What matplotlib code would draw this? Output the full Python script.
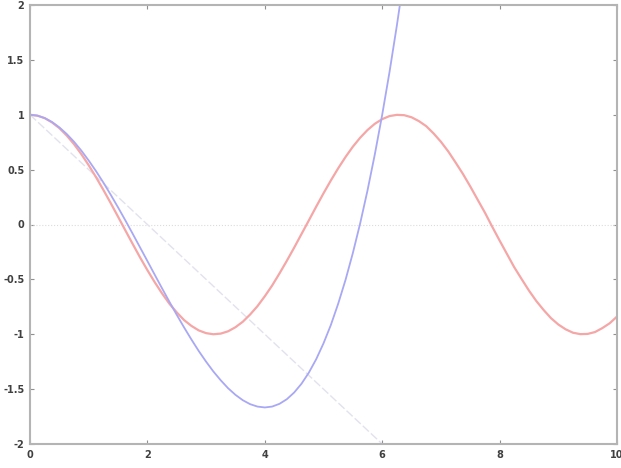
#!/usr/bin/env python3
import numpy as np
import matplotlib
matplotlib.use('Agg')
import matplotlib.pyplot as plt

x_red = [0.125 * i for i in range(81)]
y_red = [1.0, 0.992, 0.969, 0.930, 0.878, 0.811, 0.732, 0.641, 0.540, 0.431,
         0.315, 0.195, 0.071, -0.054, -0.178, -0.300, -0.416, -0.526, -0.628, -0.722,
         -0.801, -0.871, -0.924, -0.965, -0.990, -1.000, -0.994, -0.973, -0.936, -0.886,
         -0.820, -0.744, -0.654, -0.556, -0.446, -0.331, -0.211, -0.087, 0.037, 0.162,
         0.284, 0.401, 0.512, 0.615, 0.709, 0.791, 0.861, 0.918, 0.960, 0.988,
         0.999, 0.996, 0.977, 0.942, 0.896, 0.830, 0.754, 0.666, 0.565, 0.461,
         0.347, 0.227, 0.108, -0.021, -0.146, -0.268, -0.390, -0.497, -0.602, -0.697,
         -0.779, -0.853, -0.911, -0.955, -0.986, -0.999, -0.997, -0.980, -0.944, -0.900,
         -0.839]

x_blue = [0.125 * i for i in range(52)]
y_blue = [1.0, 0.992, 0.970, 0.934, 0.885, 0.825, 0.754, 0.673, 0.583, 0.486,
          0.382, 0.271, 0.156, 0.037, -0.085, -0.209, -0.333, -0.458, -0.582, -0.704,
          -0.823, -0.938, -1.048, -1.153, -1.250, -1.340, -1.420, -1.492, -1.552, -1.601,
          -1.637, -1.659, -1.667, -1.659, -1.634, -1.592, -1.531, -1.451, -1.350, -1.228,
          -1.083, -0.916, -0.722, -0.505, -0.260, 0.011, 0.311, 0.641, 1.0, 1.391,
          1.814, 2.270]

x_gray = [0, 6]
y_gray = [1, -2]

x_zero = [0, 10]
y_zero = [0, 0]

xticks = [0, 2, 4, 6, 8, 10]
xlabels = ['0', '2', '4', '6', '8', '10']
yticks = [-2, -1.5, -1, -0.5, 0, 0.5, 1, 1.5, 2]
ylabels = ['-2', '-1.5', '-1', '-0.5', '0', '0.5', '1', '1.5', '2']

fig = plt.figure(figsize=(6.21, 4.68), dpi=100)
ax = fig.add_axes([30/621, 24/468, 587/621, 439/468])

ax.plot(x_zero, y_zero, color='#dcdcdc', linewidth=0.8, linestyle=':')
ax.plot(x_gray, y_gray, color='#e2e2ee', linewidth=1.0, linestyle='--', dashes=(6, 2))
ax.plot(x_red, y_red, color='#f5a6a6', linewidth=1.6)
ax.plot(x_blue, y_blue, color='#a8a8f4', linewidth=1.3)

ax.set_xlim(0, 10)
ax.set_ylim(-2, 2)
ax.set_xticks(xticks)
ax.set_xticklabels(xlabels)
ax.set_yticks(yticks)
ax.set_yticklabels(ylabels)

for sp in ax.spines.values():
    sp.set_color('#b4b4b4')
    sp.set_linewidth(1.5)
ax.tick_params(direction='in', length=3, width=0.8, color='#909090',
               top=True, right=True, labelsize=7, labelcolor='#404040', pad=4)
for lab in ax.get_xticklabels() + ax.get_yticklabels():
    lab.set_fontweight('bold')

fig.savefig('out.png', dpi=100)
